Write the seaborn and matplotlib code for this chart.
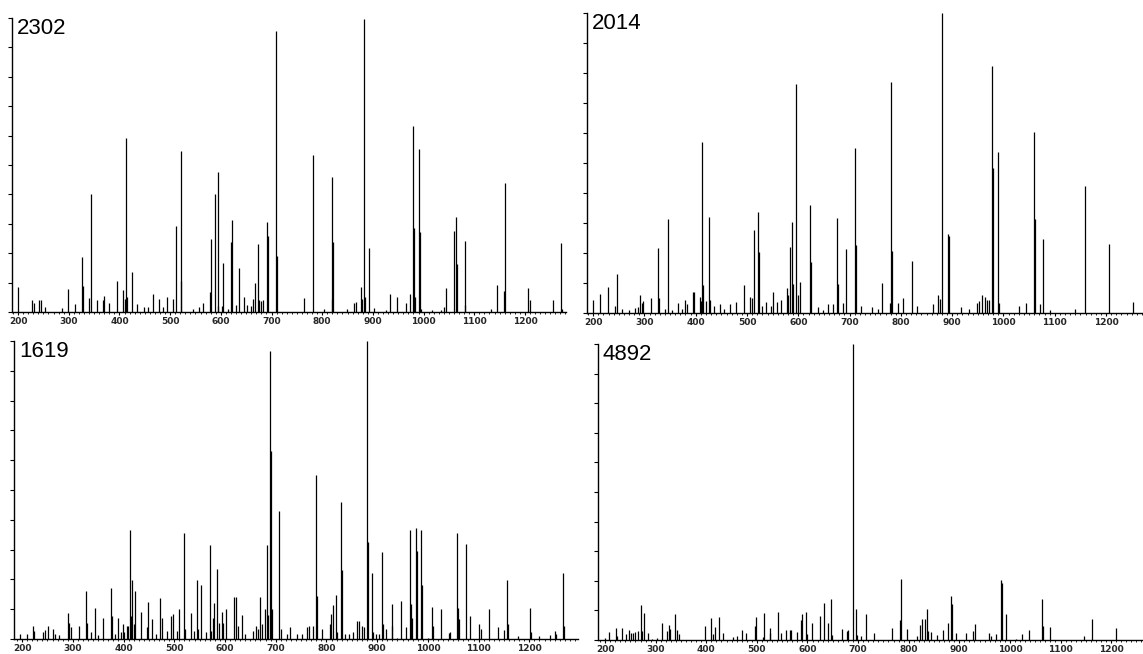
import numpy as np
import matplotlib
matplotlib.use("Agg")
import matplotlib.pyplot as plt
from matplotlib.ticker import MultipleLocator
import seaborn as sns

# stick spectra, m/z and relative intensity

mz_2302 = [200, 227, 232, 242, 246, 253, 287, 298, 312, 326, 328, 340, 344, 355, 368, 370,
           379, 395, 407, 410, 413, 415, 424, 435, 448, 456, 467, 478, 485, 494, 505, 512,
           521, 522, 546, 556, 565, 578, 581, 588, 594, 595, 602, 605, 614, 620, 622, 630,
           636, 645, 651, 660, 664, 667, 674, 676, 680, 684, 692, 694, 709, 711, 764, 781,
           804, 819, 820, 822, 848, 863, 866, 876, 879, 882, 884, 893, 903, 925, 934, 947,
           965, 974, 980, 982, 984, 991, 992, 995, 1016, 1034, 1041, 1045, 1061, 1063, 1065,
           1081, 1082, 1133, 1144, 1159, 1161, 1207, 1209, 1255, 1272, 1274]
int_2302 = [0.085, 0.04, 0.03, 0.04, 0.04, 0.017, 0.013, 0.077, 0.028, 0.186, 0.09, 0.047,
            0.40, 0.04, 0.04, 0.053, 0.03, 0.105, 0.076, 0.045, 0.593, 0.05, 0.136, 0.028,
            0.017, 0.017, 0.062, 0.043, 0.017, 0.05, 0.043, 0.294, 0.548, 0.104, 0.011,
            0.017, 0.03, 0.068, 0.25, 0.40, 0.02, 0.475, 0.02, 0.166, 0.011, 0.237, 0.314,
            0.025, 0.149, 0.05, 0.025, 0.02, 0.045, 0.10, 0.23, 0.04, 0.036, 0.042, 0.305,
            0.26, 0.957, 0.19, 0.047, 0.534, 0.011, 0.045, 0.46, 0.237, 0.011, 0.032, 0.034,
            0.085, 0.045, 0.998, 0.05, 0.217, 0.013, 0.008, 0.062, 0.05, 0.032, 0.062, 0.633,
            0.285, 0.05, 0.553, 0.273, 0.011, 0.008, 0.008, 0.017, 0.081, 0.277, 0.322,
            0.164, 0.24, 0.025, 0.011, 0.093, 0.07, 0.44, 0.081, 0.04, 0.042, 0.234, 0.011]

mz_2014 = [200, 213, 229, 243, 246, 256, 270, 282, 288, 291, 295, 298, 312, 326, 328, 340,
           345, 354, 366, 374, 379, 382, 395, 397, 408, 410, 413, 415, 420, 425, 427, 435,
           448, 456, 467, 479, 494, 505, 509, 513, 522, 524, 530, 537, 546, 550, 559, 566,
           577, 580, 583, 587, 589, 596, 599, 604, 622, 624, 639, 648, 658, 667, 676, 677,
           688, 693, 711, 713, 723, 744, 755, 764, 779, 781, 783, 794, 804, 821, 832, 863,
           873, 877, 881, 891, 893, 918, 933, 949, 953, 959, 964, 968, 972, 978, 980, 989,
           992, 1030, 1044, 1060, 1061, 1072, 1077, 1090, 1140, 1158, 1206, 1253]
int_2014 = [0.045, 0.063, 0.086, 0.023, 0.13, 0.014, 0.009, 0.017, 0.02, 0.06, 0.034, 0.04,
            0.05, 0.216, 0.05, 0.014, 0.313, 0.009, 0.033, 0.014, 0.045, 0.031, 0.071, 0.07,
            0.053, 0.04, 0.57, 0.094, 0.039, 0.319, 0.042, 0.023, 0.029, 0.014, 0.029, 0.037,
            0.094, 0.053, 0.05, 0.277, 0.336, 0.203, 0.025, 0.037, 0.025, 0.07, 0.037, 0.042,
            0.083, 0.059, 0.221, 0.302, 0.097, 0.764, 0.059, 0.103, 0.361, 0.169, 0.02, 0.009,
            0.031, 0.031, 0.317, 0.097, 0.034, 0.212, 0.549, 0.227, 0.023, 0.02, 0.014, 0.10,
            0.034, 0.77, 0.208, 0.034, 0.05, 0.175, 0.025, 0.029, 0.059, 0.048, 1.0, 0.264,
            0.256, 0.02, 0.012, 0.034, 0.039, 0.059, 0.053, 0.042, 0.042, 0.825, 0.485, 0.538,
            0.034, 0.023, 0.034, 0.604, 0.313, 0.031, 0.247, 0.009, 0.014, 0.422, 0.23, 0.037]

mz_1619 = [196, 209, 221, 224, 241, 246, 252, 260, 265, 273, 290, 292, 297, 312, 325, 327,
           336, 344, 350, 359, 376, 377, 384, 389, 394, 398, 401, 406, 409, 413, 415, 417,
           420, 423, 435, 447, 449, 456, 464, 472, 476, 485, 494, 497, 505, 510, 520, 522,
           532, 538, 544, 547, 553, 562, 570, 572, 576, 579, 585, 589, 594, 596, 601, 618,
           621, 626, 633, 640, 656, 661, 666, 670, 673, 679, 682, 684, 689, 691, 693, 707,
           710, 722, 729, 742, 752, 762, 765, 773, 779, 781, 791, 807, 809, 813, 818, 821,
           828, 830, 836, 845, 853, 860, 864, 871, 875, 879, 881, 890, 892, 897, 904, 910,
           911, 917, 929, 930, 939, 948, 956, 965, 967, 969, 977, 979, 986, 989, 1001, 1008,
           1010, 1026, 1041, 1043, 1058, 1060, 1061, 1076, 1083, 1100, 1105, 1121, 1138,
           1150, 1156, 1158, 1177, 1201, 1204, 1220, 1241, 1250, 1252, 1266, 1268]
int_1619 = [0.017, 0.017, 0.042, 0.028, 0.022, 0.031, 0.042, 0.035, 0.017, 0.013, 0.088,
            0.055, 0.041, 0.042, 0.16, 0.055, 0.022, 0.105, 0.013, 0.069, 0.171, 0.077, 0.017,
            0.069, 0.022, 0.05, 0.022, 0.042, 0.044, 0.365, 0.077, 0.199, 0.05, 0.162, 0.091,
            0.039, 0.125, 0.066, 0.017, 0.138, 0.072, 0.028, 0.077, 0.083, 0.028, 0.10, 0.357,
            0.035, 0.086, 0.028, 0.197, 0.033, 0.18, 0.024, 0.317, 0.028, 0.069, 0.122, 0.234,
            0.055, 0.091, 0.055, 0.102, 0.141, 0.141, 0.042, 0.08, 0.017, 0.028, 0.042, 0.033,
            0.141, 0.05, 0.102, 0.315, 0.08, 0.967, 0.632, 0.10, 0.431, 0.035, 0.017, 0.041,
            0.017, 0.017, 0.039, 0.042, 0.042, 0.552, 0.144, 0.035, 0.05, 0.083, 0.114, 0.146,
            0.022, 0.459, 0.232, 0.017, 0.017, 0.022, 0.061, 0.061, 0.044, 0.039, 1.0, 0.326,
            0.223, 0.022, 0.017, 0.017, 0.292, 0.05, 0.035, 0.116, 0.044, 0.005, 0.127, 0.039,
            0.367, 0.116, 0.07, 0.373, 0.296, 0.365, 0.18, 0.005, 0.108, 0.044, 0.102, 0.02,
            0.022, 0.356, 0.105, 0.066, 0.318, 0.077, 0.05, 0.033, 0.10, 0.039, 0.031, 0.197,
            0.05, 0.011, 0.103, 0.022, 0.011, 0.013, 0.028, 0.017, 0.223, 0.042]

mz_4892 = [200, 207, 221, 224, 234, 241, 248, 252, 255, 259, 266, 271, 273, 277, 284, 293,
           303, 313, 322, 326, 329, 338, 342, 347, 397, 410, 414, 418, 426, 434, 453, 460,
           470, 478, 496, 498, 512, 514, 525, 526, 541, 548, 557, 566, 568, 580, 587, 590,
           597, 599, 608, 625, 632, 640, 646, 649, 669, 678, 681, 689, 696, 698, 706, 716,
           732, 767, 782, 785, 797, 817, 823, 826, 832, 836, 839, 844, 855, 867, 878, 884,
           886, 894, 913, 927, 931, 958, 963, 972, 983, 985, 992, 1013, 1024, 1037, 1063,
           1065, 1080, 1146, 1162, 1209]
int_4892 = [0.008, 0.027, 0.039, 0.013, 0.039, 0.021, 0.033, 0.025, 0.025, 0.027, 0.03,
            0.117, 0.03, 0.09, 0.022, 0.004, 0.008, 0.056, 0.03, 0.05, 0.036, 0.087, 0.033,
            0.019, 0.047, 0.075, 0.021, 0.044, 0.078, 0.022, 0.011, 0.013, 0.034, 0.025,
            0.047, 0.078, 0.011, 0.09, 0.042, 0.025, 0.094, 0.022, 0.034, 0.034, 0.033, 0.027,
            0.067, 0.087, 0.096, 0.021, 0.058, 0.081, 0.125, 0.058, 0.139, 0.016, 0.036, 0.03,
            0.033, 1.0, 0.106, 0.017, 0.013, 0.087, 0.022, 0.039, 0.067, 0.207, 0.036, 0.013,
            0.051, 0.07, 0.07, 0.106, 0.03, 0.027, 0.017, 0.034, 0.056, 0.148, 0.12, 0.022,
            0.022, 0.03, 0.053, 0.025, 0.013, 0.019, 0.202, 0.193, 0.087, 0.002, 0.019, 0.033,
            0.139, 0.047, 0.044, 0.013, 0.07, 0.042]

labels = ["2302", "2014", "1619", "4892"]
spectra = [(mz_2302, int_2302), (mz_2014, int_2014), (mz_1619, int_1619), (mz_4892, int_4892)]

# axes boxes in pixels: left, right, top, bottom, and the m/z range shown
W, H = 1143, 654
boxes = [(12, 566, 18, 312), (587, 1143, 13, 313), (14, 578, 341, 639), (598, 1143, 344, 640)]
xlims = [(188, 1281), (188, 1272), (184, 1296), (186, 1263)]

sns.set_style("ticks")
plt.rcParams['font.family'] = ['Liberation Sans', 'DejaVu Sans']

fig = plt.figure(figsize=(W / 100, H / 100), dpi=100)

for (mz, inten), lab, (l, r, t, b), xl in zip(spectra, labels, boxes, xlims):
    ax = fig.add_axes([l / W, 1 - b / H, (r - l) / W, (b - t) / H])
    ax.vlines(mz, 0, inten, color="black", lw=0.9)
    ax.set_xlim(*xl)
    ax.set_ylim(0, 1.0)
    sns.despine(ax=ax)
    for s in ["left", "bottom"]:
        ax.spines[s].set_linewidth(1.0)
        ax.spines[s].set_color("black")
    ax.xaxis.set_major_locator(MultipleLocator(100))
    ax.xaxis.set_minor_locator(MultipleLocator(10))
    ax.yaxis.set_major_locator(MultipleLocator(0.1))
    ax.set_yticklabels([])
    ax.tick_params(axis="y", length=3, width=0.8, color="black", direction="out")
    ax.tick_params(axis="x", which="major", length=2.5, width=0.8, pad=1, color="black",
                   labelsize=6.5)
    ax.tick_params(axis="x", which="minor", length=1.5, width=0.6, color="black")
    for tl in ax.get_xticklabels():
        tl.set_fontweight("bold")
        tl.set_family(["Liberation Sans Narrow", "DejaVu Sans"])
    ax.text(5 / (r - l), 1.0, lab, transform=ax.transAxes, ha="left", va="top",
            fontsize=16, color="black")

fig.savefig("out.png", dpi=100)
